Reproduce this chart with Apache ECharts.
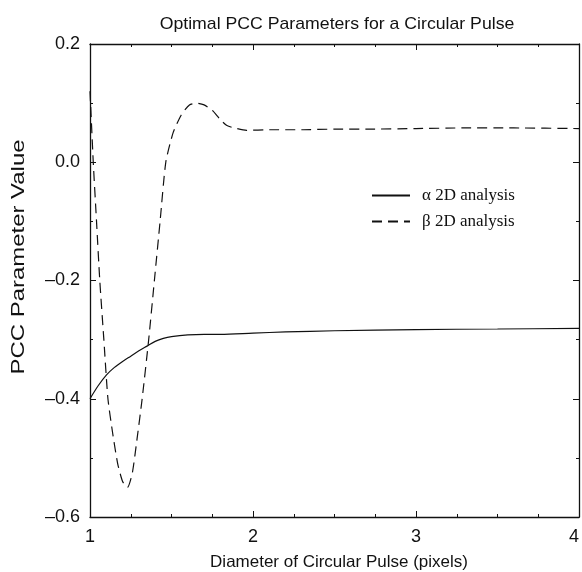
<!DOCTYPE html>
<html>
<head>
<meta charset="utf-8">
<script src="https://cdn.jsdelivr.net/npm/echarts@6/dist/echarts.min.js"></script>
<style>html,body{margin:0;padding:0;background:#fff}#c{width:582px;height:572px}</style>
</head>
<body>
<div id="c"></div>
<script>
var alphaX = [1.0, 1.05, 1.1, 1.15, 1.2, 1.25, 1.3, 1.35, 1.4, 1.45, 1.5, 1.6, 1.7, 1.8, 2.0, 2.2, 2.5, 3.0, 3.5, 4.0];
var alphaY = [-0.40, -0.378, -0.360, -0.347, -0.337, -0.328, -0.319, -0.311, -0.303, -0.298, -0.295, -0.292, -0.291, -0.291, -0.289, -0.287, -0.285, -0.283, -0.282, -0.281];
var betaX = [1.0, 1.02, 1.04, 1.06, 1.085, 1.11, 1.14, 1.17, 1.2, 1.23, 1.26, 1.29, 1.32, 1.36, 1.395, 1.43, 1.465, 1.51, 1.56, 1.61, 1.655, 1.70, 1.75, 1.80, 1.84, 1.90, 1.96, 2.1, 2.3, 2.5, 2.7, 3.0, 3.3, 3.6, 4.0];
var betaY = [0.12, 0.0, -0.10, -0.20, -0.30, -0.40, -0.46, -0.51, -0.54, -0.55, -0.525, -0.465, -0.40, -0.30, -0.20, -0.10, 0.0, 0.05, 0.08, 0.097, 0.10, 0.097, 0.088, 0.072, 0.062, 0.057, 0.054, 0.055, 0.055, 0.056, 0.056, 0.057, 0.058, 0.058, 0.057];
var xTicks = [1, 2, 3, 4];
var yTicks = [-0.6, -0.4, -0.2, 0.0, 0.2];
var seriesNames = ['\u03b1 2D analysis', '\u03b2 2D analysis'];
var titleText = 'Optimal PCC Parameters for a Circular Pulse';
var xName = 'Diameter of Circular Pulse (pixels)';
var yName = 'PCC Parameter Value';

function pairs(xs, ys) { return xs.map(function (x, i) { return [x, ys[i]]; }); }
var sans = 'Liberation Sans, Arial, sans-serif';
var lineCol = '#111';
var axLine = { show: true, onZero: false, lineStyle: { color: lineCol, width: 1.3 } };
var axTick = { show: true, inside: true, length: 6, lineStyle: { color: lineCol } };
function minor(n) { return { show: true, splitNumber: n, length: 3, lineStyle: { color: lineCol } }; }

var chart = echarts.init(document.getElementById('c'), null, { renderer: 'canvas' });
chart.setOption({
  animation: false,
  backgroundColor: '#fff',
  graphic: [
    { type: 'text', x: 337, y: 24, scaleX: 1.04,
      style: { text: titleText, font: '17px ' + sans, fill: lineCol, textAlign: 'center', textVerticalAlign: 'middle' } },
    { type: 'text', x: 19, y: 257, rotation: Math.PI / 2, scaleX: 1.26,
      style: { text: yName, font: '19px ' + sans, fill: lineCol, textAlign: 'center', textVerticalAlign: 'middle' } },
    { type: 'text', x: 339, y: 562, scaleX: 1.03,
      style: { text: xName, font: '16.5px ' + sans, fill: lineCol, textAlign: 'center', textVerticalAlign: 'middle' } }
  ],
  legend: {
    orient: 'vertical', left: 366, top: 182, itemWidth: 38, itemHeight: 10, itemGap: 9,
    data: seriesNames,
    itemStyle: { opacity: 0 },
    textStyle: { fontFamily: 'Liberation Serif, Times New Roman, serif', fontSize: 17, color: lineCol, padding: [0, 0, 0, 7] }
  },
  grid: { left: 90, right: 3, top: 44, bottom: 55, outerBoundsMode: 'none', containLabel: false },
  xAxis: [
    {
      type: 'value', min: xTicks[0], max: xTicks[xTicks.length - 1], interval: 1,
      axisLine: axLine, axisTick: axTick, minorTick: minor(4), splitLine: { show: false },
      axisLabel: { fontFamily: sans, fontSize: 18, color: lineCol, margin: 11, alignMaxLabel: 'right' }
    },
    {
      type: 'value', position: 'top', min: xTicks[0], max: xTicks[xTicks.length - 1], interval: 1,
      axisLine: axLine, axisTick: axTick, minorTick: minor(4), splitLine: { show: false },
      axisLabel: { show: false }
    }
  ],
  yAxis: [
    {
      type: 'value', min: yTicks[0], max: yTicks[yTicks.length - 1], interval: 0.2,
      axisLine: axLine, axisTick: axTick, minorTick: minor(2), splitLine: { show: false },
      axisLabel: {
        fontFamily: sans, fontSize: 18, color: lineCol, margin: 10,
        formatter: function (v) { var s = Math.abs(v).toFixed(1); return v < -1e-9 ? '\u2013' + s : s; }
      }
    },
    {
      type: 'value', position: 'right', min: yTicks[0], max: yTicks[yTicks.length - 1], interval: 0.2,
      axisLine: axLine, axisTick: axTick, minorTick: minor(2), splitLine: { show: false },
      axisLabel: { show: false }
    }
  ],
  series: [
    {
      name: seriesNames[0], type: 'line', data: pairs(alphaX, alphaY), smooth: 0.3,
      symbol: 'none', lineStyle: { color: lineCol, width: 1.2, type: 'solid' }, itemStyle: { color: lineCol }
    },
    {
      name: seriesNames[1], type: 'line', data: pairs(betaX, betaY), smooth: 0.2,
      symbol: 'none', lineStyle: { color: lineCol, width: 1.2, type: [10, 6] }, itemStyle: { color: lineCol }
    }
  ]
});
</script>
</body>
</html>
